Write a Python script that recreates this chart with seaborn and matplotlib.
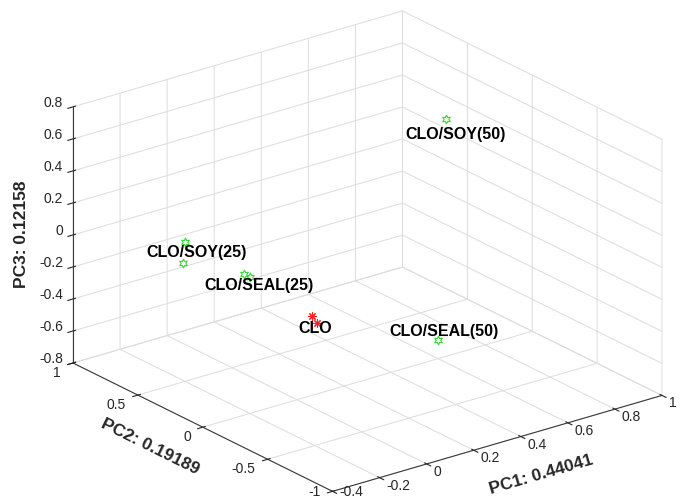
import numpy as np
import matplotlib
matplotlib.use("Agg")
import matplotlib.pyplot as plt
import seaborn as sns
from matplotlib.transforms import offset_copy
from mpl_toolkits.mplot3d import proj3d

# PCA scores of the oil blends (two replicates for some samples)
sample = ["CLO", "CLO", "CLO/SEAL(25)", "CLO/SEAL(25)",
          "CLO/SOY(25)", "CLO/SOY(25)", "CLO/SOY(50)", "CLO/SEAL(50)"]
pc1 = [0.00, 0.01, -0.12, -0.10, -0.19, -0.19, 0.72, 0.44]
pc2 = [-0.12, -0.14, 0.19, 0.18, 0.52, 0.53, 0.16, -0.29]
pc3 = [-0.23, -0.27, -0.04, -0.06, 0.06, -0.075, 0.58, -0.50]

# explained variance shown in the axis titles
explained = {"PC1": 0.44041, "PC2": 0.19189, "PC3": 0.12158}

# axis ticks
xticks = [-0.4, -0.2, 0, 0.2, 0.4, 0.6, 0.8, 1]
yticks = [-1, -0.5, 0, 0.5, 1]
zticks = [-0.8, -0.6, -0.4, -0.2, 0, 0.2, 0.4, 0.6, 0.8]

XLIM, YLIM, ZLIM = (-0.4, 1), (-1, 1), (-0.8, 0.8)

sns.set_theme(style="white")
plt.rcParams.update({
    "font.family": ["Liberation Sans", "DejaVu Sans"],
    "axes.unicode_minus": False,
    "grid.color": "#dcdcdc",
    "grid.linewidth": 0.7,
    "axes.edgecolor": "#3a3a3a",
    "axes.linewidth": 0.8,
    "xtick.major.width": 0.8,
    "ytick.major.width": 0.8,
    "xtick.color": "#262626",
    "ytick.color": "#262626",
})
TICK_COLOR = "#262626"

W, H = 680, 498
fig = plt.figure(figsize=(W / 100, H / 100), dpi=100)
ax = fig.add_axes([0, 0, 1, 1], projection="3d", proj_type="ortho")
ax.view_init(elev=22.3, azim=-127.5)
ax.set_box_aspect((1.5, 1.54, 1.0))

ax.set_xlim(*XLIM)
ax.set_ylim(*YLIM)
ax.set_zlim(*ZLIM)
ax.set_xticks(xticks)
ax.set_yticks(yticks)
ax.set_zticks(zticks)
ax.set_xticklabels([])
ax.set_yticklabels([])
ax.set_zticklabels([])

for axis in (ax.xaxis, ax.yaxis, ax.zaxis):
    axis.set_pane_color((1, 1, 1, 0))
    axis.pane.set_edgecolor("#dcdcdc")
    axis.line.set_color("#3a3a3a")

green = sns.color_palette(["#33dd33"])[0]
red = sns.color_palette(["#ff2020"])[0]
for name in dict.fromkeys(sample):
    idx = [i for i, s in enumerate(sample) if s == name]
    xs = [pc1[i] for i in idx]
    ys = [pc2[i] for i in idx]
    zs = [pc3[i] for i in idx]
    if name == "CLO":
        ax.plot(xs, ys, zs, ls="none", marker=(8, 2, 0), ms=6,
                mec=red, mew=0.8)
    else:
        ax.plot(xs, ys, zs, ls="none", marker=(6, 1, 0), ms=6.5,
                mfc="none", mec=green, mew=0.8)

# fit the plot cube into the figure
fig.canvas.draw()
M = ax.get_proj()


def project(x, y, z):
    px, py, _ = proj3d.proj_transform(np.atleast_1d(x), np.atleast_1d(y),
                                      np.atleast_1d(z), M)
    return np.column_stack([px, py])


corner_xy = project([XLIM[0], XLIM[1]], [YLIM[1], YLIM[0]], [ZLIM[0], ZLIM[0]])
pix = ax.transData.transform(corner_xy)
target_left = np.array([73.0, H - 363.0])
target_right = np.array([662.0, H - 393.0])
scale = (target_right[0] - target_left[0]) / (pix[1, 0] - pix[0, 0])
bb = ax.get_position().transformed(fig.transFigure)
c0 = np.array([bb.x0 + bb.width / 2, bb.y0 + bb.height / 2])
side = bb.width * scale
c1 = target_left - scale * (pix[0] - c0)
ax.set_position([(c1[0] - side / 2) / W, (c1[1] - side / 2) / H, side / W, side / H])
fig.canvas.draw()


def shifted(dx, dy):
    return offset_copy(ax.transData, fig=fig, x=dx, y=dy, units="dots")


def label3d(x, y, z, s, dx, dy, min_y=None, **kw):
    (px, py), = project(x, y, z)
    if min_y is not None:
        # keep labels near the bottom edge inside the figure
        y_pix = ax.transData.transform((px, py))[1] + dy
        if y_pix < min_y:
            dy += min_y - y_pix
    ax.text2D(px, py, s, transform=shifted(dx, dy), **kw)


def axis_angle(p0, p1):
    a, b = ax.transData.transform(project(*np.transpose([p0, p1])))
    ang = np.degrees(np.arctan2(b[1] - a[1], b[0] - a[0]))
    if ang > 90:
        ang -= 180
    elif ang < -90:
        ang += 180
    return ang


# tick labels along the three visible axis lines
for t in xticks:
    label3d(t, YLIM[0], ZLIM[0], f"{t:g}", 7, -8, min_y=6, fontsize=10,
            color=TICK_COLOR, ha="left", va="center")
for t in yticks:
    label3d(XLIM[0], t, ZLIM[0], f"{t:g}", -12, -10, min_y=6, fontsize=10,
            color=TICK_COLOR, ha="right", va="center")
for t in zticks:
    label3d(XLIM[0], YLIM[1], t, f"{t:g}", -10, 4, fontsize=10,
            color=TICK_COLOR, ha="right", va="center")

# axis titles, running along their axes
x_ang = axis_angle((XLIM[0], YLIM[0], ZLIM[0]), (XLIM[1], YLIM[0], ZLIM[0]))
y_ang = axis_angle((XLIM[0], YLIM[0], ZLIM[0]), (XLIM[0], YLIM[1], ZLIM[0]))
title_kw = dict(fontsize=12.5, fontweight="bold", ha="center", va="center",
                rotation_mode="anchor")
label3d(np.mean(XLIM), YLIM[0], ZLIM[0], f"PC1: {explained['PC1']:.5f}", 44, -31,
        rotation=x_ang, **title_kw)
label3d(XLIM[0], np.mean(YLIM), ZLIM[0], f"PC2: {explained['PC2']:.5f}", -53, -20,
        rotation=y_ang, **title_kw)
label3d(XLIM[0], YLIM[1], np.mean(ZLIM), f"PC3: {explained['PC3']:.5f}", -51, 1,
        rotation=90, **title_kw)

# sample labels, placed next to each group
label_offset = {
    "CLO/SOY(50)": (-40, -15),
    "CLO/SOY(25)": (-38, 0),
    "CLO/SEAL(25)": (-43, -10),
    "CLO": (-17, -9),
    "CLO/SEAL(50)": (-49, 9),
}
for name, (dx, dy) in label_offset.items():
    idx = [i for i, s in enumerate(sample) if s == name]
    mx = np.mean([pc1[i] for i in idx])
    my = np.mean([pc2[i] for i in idx])
    mz = np.mean([pc3[i] for i in idx])
    label3d(mx, my, mz, name, dx, dy, fontsize=11.5, fontweight="bold",
            color="black", ha="left", va="center")

fig.savefig("out.png", dpi=100)
